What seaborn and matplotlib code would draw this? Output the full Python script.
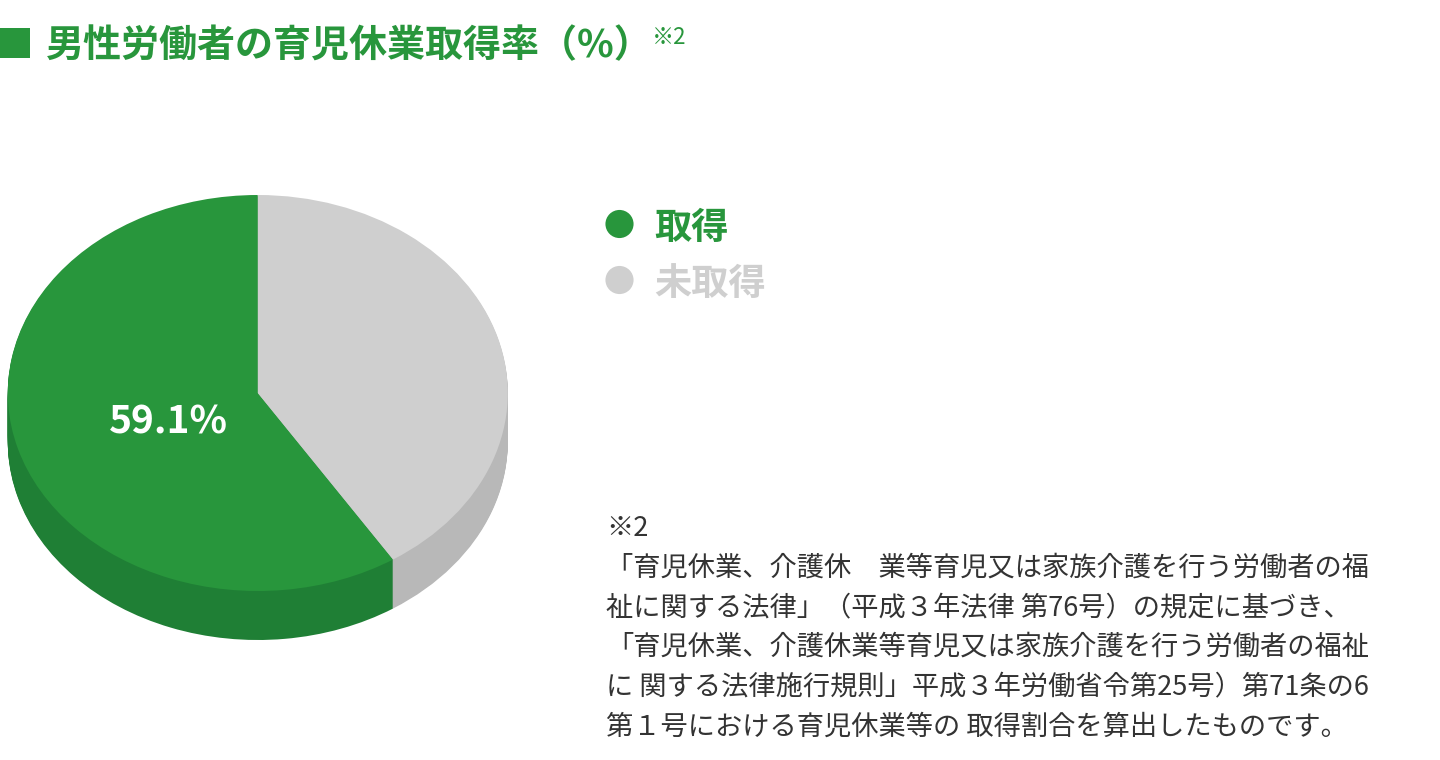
import matplotlib
matplotlib.use("Agg")
import matplotlib.pyplot as plt
import pandas as pd
import seaborn as sns

sns.set_theme(style="white")
plt.rcParams['font.family'] = ['Noto Sans CJK JP', 'DejaVu Sans']

categories = ["取得", "未取得"]
values = [59.1, 40.9]
top_colors = ["#28963C", "#CFCFCF"]
side_colors = ["#1F7F35", "#B8B8B8"]
title = "男性労働者の育児休業取得率（%）"
note_mark = "※2"
value_label = "59.1%"
note_lines = [
    "※2",
    "「育児休業、介護休　業等育児又は家族介護を行う労働者の福",
    "祉に関する法律」（平成３年法律 第76号）の規定に基づき、",
    "「育児休業、介護休業等育児又は家族介護を行う労働者の福祉",
    "に 関する法律施行規則」平成３年労働省令第25号）第71条の6",
    "第１号における育児休業等の 取得割合を算出したものです。",
]

W, H = 1440, 760
fig = plt.figure(figsize=(W / 100, H / 100), dpi=100)

# Pie: ellipse radii 250 x 198 px, depth 49 px
cx, cy, rx, ry, depth = 257.8, 393, 250, 198, 49
ax = fig.add_axes([(cx - rx) / W, 1 - (cy + ry + depth) / H, 2 * rx / W, (2 * ry + depth) / H])
steps = 49
for i in range(steps, 0, -1):
    ax.pie(values, colors=side_colors, startangle=90, center=(0, -i / ry), radius=1,
           wedgeprops=dict(linewidth=0), frame=True)
ax.pie(values, colors=top_colors, startangle=90, center=(0, 0), radius=1,
       wedgeprops=dict(linewidth=0), frame=True)
ax.set_aspect("auto")
ax.set_xlim(-1, 1)
ax.set_ylim(-1 - depth / ry, 1)
ax.set_xticks([])
ax.set_yticks([])
ax.axis("off")

# Overlay in pixel units
ov = fig.add_axes([0, 0, 1, 1], facecolor="none")
ov.set_xlim(0, W)
ov.set_ylim(H, 0)
ov.axis("off")

legend_df = pd.DataFrame({"x": [619.5, 619.5], "y": [224, 280], "cat": categories})
sns.scatterplot(data=legend_df, x="x", y="y", hue="cat", palette=dict(zip(categories, top_colors)),
                s=410, linewidth=0, legend=False, ax=ov)
ov.axis("off")
for y, c, col in zip(legend_df["y"], categories, top_colors):
    ov.text(654.5, y + 4, c, color=col, fontsize=26.8, fontweight="bold", va="center", ha="left")

ov.add_patch(plt.Rectangle((0, 28), 30, 30, color=top_colors[0], lw=0))
ov.text(46, 46, title, color=top_colors[0], fontsize=27.4, fontweight="bold", va="center", ha="left")
ov.text(652, 37, note_mark, color=top_colors[0], fontsize=16, va="center", ha="left")
ov.text(109, 422, value_label, color="white", fontsize=28, fontweight="bold", va="center", ha="left")

for y, line in zip([529, 568, 608, 647, 687, 727], note_lines):
    ov.text(606, y, line, color="#333333", fontsize=19.62, va="center", ha="left")

fig.savefig("out.png", dpi=100, facecolor="white")
